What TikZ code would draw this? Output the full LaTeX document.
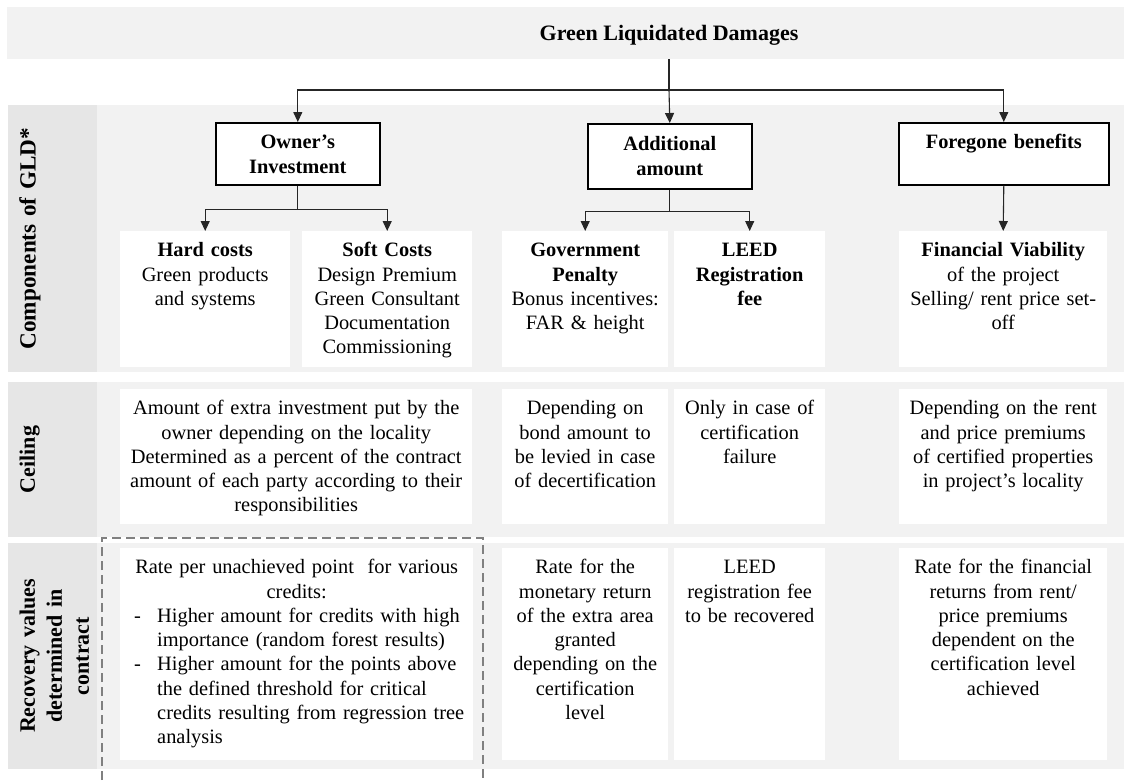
\documentclass[tikz,border=0pt]{standalone}
\usepackage{fontspec}
\setmainfont{Liberation Serif}
\usetikzlibrary{arrows.meta}

\newcommand{\bodyfont}{\fontsize{20.4}{24.3}\selectfont}
\newcommand{\headfont}{\fontsize{20.4}{24.3}\selectfont\bfseries}
\newcommand{\labelfont}{\fontsize{22}{27}\selectfont\bfseries}
\newcommand{\titlefont}{\fontsize{22}{27}\selectfont\bfseries}
% one line of the bulleted list in the recovery cell
\newcommand{\reclistline}[2]{\makebox[353pt][l]{\hspace*{14pt}\makebox[23pt][l]{#1}#2}}

\definecolor{bandgray}{HTML}{F2F2F2}
\definecolor{labelgray}{HTML}{E6E6E6}
\definecolor{dashgray}{HTML}{808080}

\tikzset{
  band/.style={fill=bandgray, draw=none},
  labelcol/.style={fill=labelgray, draw=none},
  cell/.style={fill=white, inner sep=0pt, align=center, font=\bodyfont,
               text height=25.5pt, anchor=north west},
  headbox/.style={draw=black, line width=1.6pt, fill=white, inner sep=0pt,
                  align=center, font=\headfont, text height=26pt, anchor=north west},
  rowlabel/.style={rotate=90, anchor=north, inner sep=0pt, align=center,
                   font=\labelfont},
  link/.style={draw=black!85, line width=1.1pt},
  arr/.style={link, -{Triangle[width=9pt,length=10pt]}},
  dashframe/.style={draw=dashgray, line width=1.2pt, dash pattern=on 9pt off 5pt},
}

\begin{document}
\begin{tikzpicture}[x=1pt, y=-1pt]
\useasboundingbox (0,0) rectangle (1124,780);

% title band
\node[band, minimum width=1117pt, minimum height=52pt, inner sep=0pt] (band) at (565.5,33) {};
\node[font=\titlefont, anchor=base, inner sep=0pt] (title) at (669,40) {Green Liquidated Damages};

% row bands with their label columns
\fill[bandgray] (8,105) rectangle (1124,372);
\fill[labelgray] (8,105) rectangle (97,372);
\fill[bandgray] (8,382) rectangle (1124,537);
\fill[labelgray] (8,382) rectangle (97,537);
\fill[bandgray] (8,543) rectangle (1124,769);
\fill[labelgray] (8,543) rectangle (97,769);

% row labels
\node[rowlabel, text width=240pt, font=\fontsize{23.2}{27}\selectfont\bfseries] (lblcomp) at (19,238.5) {Components of GLD*};
\node[rowlabel, text width=150pt] (lblceil) at (19.5,459.5) {Ceiling};
\node[rowlabel, text width=215pt] (lblrec) at (19.5,656) {Recovery values\\determined in\\contract};

% component boxes
\node[headbox, text width=164pt, text depth=36pt] (owner) at (215,122) {Owner’s\\Investment};
\node[headbox, text width=164pt, text depth=38pt, text height=27pt] (addl) at (587,123) {Additional\\amount};
\node[headbox, text width=210pt, text depth=36pt] (forgone) at (898,122) {Foregone benefits};

% row 1: sub-components
\node[cell, text width=170pt, text depth=110.5pt] (hard) at (120,231)
  {\textbf{Hard costs}\\Green products\\and systems};
\node[cell, text width=170pt, text depth=110.5pt] (soft) at (302,231)
  {\textbf{Soft Costs}\\Design Premium\\Green Consultant\\Documentation\\Commissioning};
\node[cell, text width=166pt, text depth=110.5pt] (gov) at (502,231)
  {\textbf{Government}\\\textbf{Penalty}\\Bonus incentives:\\FAR \& height};
\node[cell, text width=151pt, text depth=110.5pt] (leed) at (674,231)
  {\textbf{LEED}\\\textbf{Registration}\\\textbf{fee}};
\node[cell, text width=208pt, text depth=110.5pt] (fin) at (899,231)
  {\textbf{Financial Viability}\\of the project\\Selling/ rent price set-\\off};

% row 2: ceiling
\node[cell, text width=352pt, text depth=109.5pt] (ceilown) at (120,389)
  {Amount of extra investment put by the\\owner depending on the locality\\Determined as a percent of the contract\\amount of each party according to their\\responsibilities};
\node[cell, text width=166pt, text depth=109.5pt] (ceilgov) at (502,389)
  {Depending on\\bond amount to\\be levied in case\\of decertification};
\node[cell, text width=151pt, text depth=109.5pt] (ceilleed) at (674,389)
  {Only in case of\\certification\\failure};
\node[cell, text width=208pt, text depth=109.5pt] (ceilfin) at (899,389)
  {Depending on the rent\\and price premiums\\of certified properties\\in project’s locality};

% row 3: recovery values
\node[cell, text width=353pt, text depth=186.5pt] (recown) at (120,548)
  {Rate per unachieved point\ \ for various\\credits:\\
   \reclistline{-}{Higher amount for credits with high}\\
   \reclistline{}{importance (random forest results)}\\
   \reclistline{-}{Higher amount for the points above}\\
   \reclistline{}{the defined threshold for critical}\\
   \reclistline{}{credits resulting from regression tree}\\
   \reclistline{}{analysis}};
\node[cell, text width=166pt, text depth=186.5pt] (recgov) at (502,548)
  {Rate for the\\monetary return\\of the extra area\\granted\\depending on the\\certification\\level};
\node[cell, text width=151pt, text depth=186.5pt] (recleed) at (674,548)
  {LEED\\registration fee\\to be recovered};
\node[cell, text width=208pt, text depth=186.5pt] (recfin) at (899,548)
  {Rate for the financial\\returns from rent/\\price premiums\\dependent on the\\certification level\\achieved};

% dashed frame around the owner's recovery cell
\draw[dashframe] (102,780) -- (102,538) -- (483,538) -- (483,780);

% connectors
\coordinate (hub) at (669,90);
\draw[link] (title |- band.south) -- (hub);
\draw[arr] (hub) -| (owner.north);
\draw[arr] (hub) -- (addl.north);
\draw[arr] (hub) -| (forgone.north);

\coordinate (ownhub) at ([yshift=-24pt]owner.south);
\draw[link] (owner.south) -- (ownhub);
\draw[arr] (ownhub) -| (hard.north);
\draw[arr] (ownhub) -| (soft.north);

\coordinate (addhub) at ([yshift=-22pt]addl.south);
\draw[link] (addl.south) -- (addhub);
\draw[arr] (addhub) -| (gov.north);
\draw[arr] (addhub) -| (leed.north);

\draw[arr] (forgone.south) -- (fin.north);
\end{tikzpicture}
\end{document}
